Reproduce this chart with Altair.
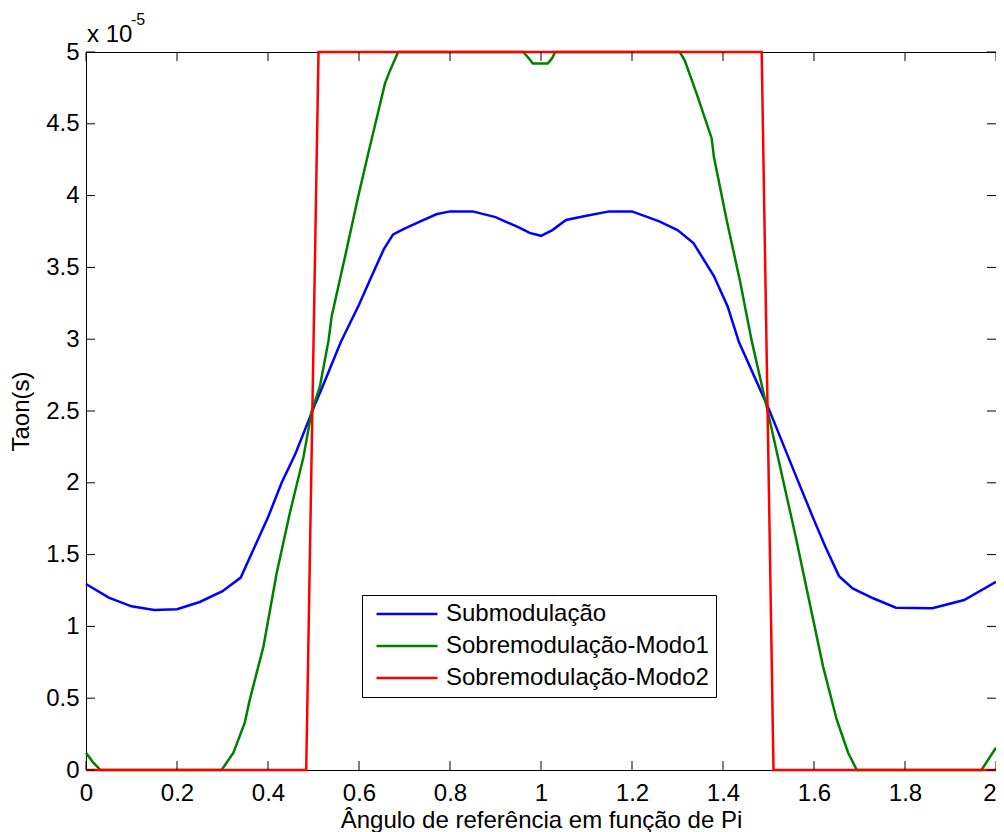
import altair as alt
import pandas as pd

FONT = "Liberation Sans"

# Series names and colours
series_names = ["Submodulação", "Sobremodulação-Modo1", "Sobremodulação-Modo2"]
series_colors = ["#0000FF", "#008000", "#FF0000"]

# Values of Taon in units of 1e-5 s ; x = reference angle / pi
blue_x = [0, 0.05, 0.1, 0.15, 0.2, 0.25, 0.3, 0.34, 0.36, 0.4, 0.43, 0.46, 0.48, 0.5, 0.52,
          0.56, 0.6, 0.625, 0.655, 0.675, 0.7, 0.735, 0.77, 0.8, 0.85, 0.9, 0.95, 0.975, 1.0,
          1.025, 1.055, 1.1, 1.15, 1.2, 1.26, 1.3, 1.335, 1.38, 1.41, 1.435, 1.5, 1.56, 1.6,
          1.625, 1.655, 1.685, 1.73, 1.78, 1.86, 1.93, 2.0]
blue_v = [1.295, 1.20, 1.14, 1.115, 1.12, 1.17, 1.245, 1.34, 1.48, 1.76, 2.0, 2.2, 2.36, 2.52, 2.67,
          2.98, 3.24, 3.42, 3.63, 3.73, 3.77, 3.82, 3.87, 3.89, 3.89, 3.85, 3.78, 3.74, 3.72,
          3.76, 3.83, 3.86, 3.89, 3.89, 3.82, 3.76, 3.67, 3.44, 3.23, 2.98, 2.52, 2.05, 1.74,
          1.555, 1.35, 1.265, 1.196, 1.13, 1.126, 1.184, 1.31]

green_x = [0, 0.015, 0.032, 0.298, 0.324, 0.349, 0.36, 0.39, 0.419, 0.448, 0.478, 0.496, 0.514,
           0.533, 0.54, 0.569, 0.598, 0.62, 0.642, 0.657, 0.668, 0.686, 0.961, 0.975, 0.982,
           1.015, 1.025, 1.031, 1.305, 1.316, 1.342, 1.375, 1.38, 1.408, 1.437, 1.463, 1.496,
           1.558, 1.62, 1.65, 1.675, 1.694, 1.968, 2.0]
green_v = [0.12, 0.055, 0, 0, 0.12, 0.33, 0.49, 0.86, 1.37, 1.79, 2.18, 2.50, 2.67,
           2.99, 3.16, 3.57, 3.99, 4.29, 4.58, 4.78, 4.87, 5.0, 5.0, 4.95, 4.92,
           4.92, 4.96, 5.0, 5.0, 4.94, 4.71, 4.40, 4.27, 3.83, 3.41, 2.99, 2.53,
           1.65, 0.72, 0.35, 0.12, 0, 0, 0.155]

red_x = [0, 0.484, 0.511, 1.485, 1.511, 2.0]
red_v = [0, 0, 5, 5, 0, 0]

x_ticks = [0, 0.2, 0.4, 0.6, 0.8, 1.0, 1.2, 1.4, 1.6, 1.8, 2.0]
y_ticks = [0, 0.5, 1, 1.5, 2, 2.5, 3, 3.5, 4, 4.5, 5]

x_title = "Ângulo de referência em função de Pi"
y_title = "Taon(s)"

frames = []
for name, xs, vs in zip(series_names, [blue_x, green_x, red_x], [blue_v, green_v, red_v]):
    frames.append(pd.DataFrame({"x": xs, "v": vs, "serie": name}))
df = pd.concat(frames, ignore_index=True)

W, H = 910, 718
TICK = 9

xscale = alt.Scale(domain=[0, 2], nice=False, zero=False)
yscale = alt.Scale(domain=[0, 5], nice=False, zero=False)

xaxis = alt.Axis(values=x_ticks, format="~g", title=x_title, ticks=False, tickSize=0,
                 domain=False, grid=False, labelPadding=11, titlePadding=3,
                 labelFlush=False,
                 labelAlign={"condition": {"test": "datum.value >= 2", "value": "right"},
                             "value": "center"})
yaxis = alt.Axis(values=y_ticks, format="~g", title=y_title, ticks=False, tickSize=0,
                 domain=False, grid=False, labelPadding=7, titlePadding=12,
                 labelFlush=False)

lines = alt.Chart(df).mark_line(strokeWidth=2.5).encode(
    x=alt.X("x:Q", scale=xscale, axis=xaxis),
    y=alt.Y("v:Q", scale=yscale, axis=yaxis),
    color=alt.Color("serie:N", sort=series_names,
                    scale=alt.Scale(domain=series_names, range=series_colors),
                    legend=alt.Legend(title=None, orient="none", legendX=276, legendY=543,
                                      strokeColor="black", fillColor="white", padding=7,
                                      symbolType="stroke", symbolSize=3721,
                                      symbolStrokeWidth=2.5, symbolOffset=6, labelOffset=7,
                                      labelFontSize=24, labelFont=FONT, labelColor="black",
                                      labelLimit=500, rowPadding=8, clipHeight=24)),
)

xt = pd.DataFrame({"x": x_ticks})
yt = pd.DataFrame({"v": y_ticks})

xt_bottom = alt.Chart(xt).mark_rule(color="black", strokeWidth=1).encode(
    x=alt.X("x:Q", scale=xscale, axis=xaxis), y=alt.value(H), y2=alt.value(H - TICK))
xt_top = alt.Chart(xt).mark_rule(color="black", strokeWidth=1).encode(
    x=alt.X("x:Q", scale=xscale, axis=xaxis), y=alt.value(0), y2=alt.value(TICK))
yt_left = alt.Chart(yt).mark_rule(color="black", strokeWidth=1).encode(
    y=alt.Y("v:Q", scale=yscale, axis=yaxis), x=alt.value(0), x2=alt.value(TICK))
yt_right = alt.Chart(yt).mark_rule(color="black", strokeWidth=1).encode(
    y=alt.Y("v:Q", scale=yscale, axis=yaxis), x=alt.value(W), x2=alt.value(W - TICK))

exp_base = alt.Chart(pd.DataFrame({"t": ["x 10"]})).mark_text(
    align="left", baseline="alphabetic", fontSize=24, font=FONT, color="black"
).encode(x=alt.value(1), y=alt.value(-10), text="t:N")
exp_sup = alt.Chart(pd.DataFrame({"t": ["-5"]})).mark_text(
    align="left", baseline="alphabetic", fontSize=16, font=FONT, color="black"
).encode(x=alt.value(45), y=alt.value(-27), text="t:N")

chart = alt.layer(lines, xt_bottom, xt_top, yt_left, yt_right, exp_base, exp_sup).properties(
    width=W, height=H,
    autosize=alt.AutoSizeParams(type="none"),
    padding={"left": 78, "top": 44, "right": 0, "bottom": 62},
    background="white",
).configure_view(
    stroke="black", strokeWidth=1
).configure_axis(
    labelFont=FONT, labelFontSize=24, labelColor="black",
    titleFont=FONT, titleFontSize=24, titleColor="black", titleFontWeight="normal",
)

chart.save("out.html", embed_options={"renderer": "svg", "actions": False})
